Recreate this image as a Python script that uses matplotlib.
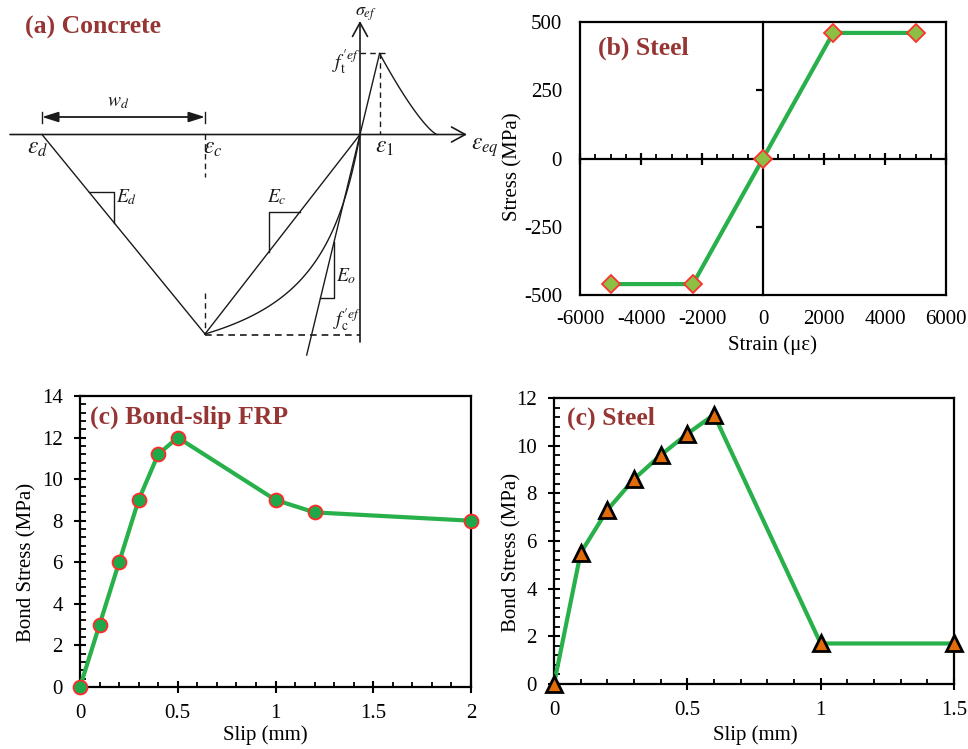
import numpy as np
import matplotlib
matplotlib.use('Agg')
import matplotlib.pyplot as plt
from matplotlib.ticker import MultipleLocator

# ---------------- data ----------------
# (b) steel stress-strain
steel_strain = [-5000, -2300, 0, 2300, 5000]
steel_stress = [-460, -460, 0, 460, 460]
# (c) FRP bond-slip
frp_slip = [0, 0.1, 0.2, 0.3, 0.4, 0.5, 1.0, 1.2, 2.0]
frp_bond = [0, 3, 6, 9, 11.2, 12, 9, 8.4, 8]
# (c) steel bond-slip
st_slip = [0, 0.1, 0.2, 0.3, 0.4, 0.5, 0.6, 1.0, 1.5]
st_bond = [0, 5.5, 7.3, 8.6, 9.6, 10.5, 11.3, 1.7, 1.7]

# (a) schematic key points (drawing units)
origin = (360, 134.5)
eps_d_x = 42
peak_c = (205, 334)
peak_t_y = 53.5
soft_end_x = 437
eo_bottom = (306.7, 355)

W, H = 968, 749
plt.rcParams['font.family'] = ['Liberation Serif', 'DejaVu Serif']
plt.rcParams['mathtext.fontset'] = 'stix'
plt.rcParams['axes.unicode_minus'] = False

TITLE_C = '#963634'
GREEN = '#28B04A'
FS = 15
TFS = 18.5

fig = plt.figure(figsize=(W / 100, H / 100), dpi=100)


def rect(l, t, r, b):
    return [l / W, 1 - b / H, (r - l) / W, (b - t) / H]


def axc(box, px, py):
    l, t, r, b = box
    return ((px - l) / (r - l), (b - py) / (b - t))


# ---------------- (a) concrete schematic ----------------
aa = fig.add_axes(rect(0, 0, 490, 370))
aa.set_xlim(0, 490)
aa.set_ylim(370, 0)
aa.axis('off')
K = '#1a1a1a'
LW = 1.0
ox, oy = origin
# axes with arrows
aa.annotate('', xy=(467, oy), xytext=(10, oy),
            arrowprops=dict(arrowstyle='->,head_length=0.55,head_width=0.3', lw=1.2, color=K,
                            shrinkA=0, shrinkB=0, mutation_scale=18))
aa.annotate('', xy=(ox, 21), xytext=(ox, 342),
            arrowprops=dict(arrowstyle='->,head_length=0.55,head_width=0.3', lw=1.2, color=K,
                            shrinkA=0, shrinkB=0, mutation_scale=18))
# descending branch eps_d -> peak
aa.plot([eps_d_x, peak_c[0]], [oy, peak_c[1]], color=K, lw=LW)
# secant line
aa.plot([peak_c[0], ox], [peak_c[1], oy], color=K, lw=LW)
# compression curve
t = np.linspace(0, 1, 100)
s = 1.3 * t / (0.3 + t)
aa.plot(ox - t * (ox - peak_c[0]), oy + s * (peak_c[1] - oy), color=K, lw=LW)
# initial tangent line (through origin to tension peak)
slope_o = (eo_bottom[1] - oy) / (ox - eo_bottom[0])
peak_t_x = ox + (oy - peak_t_y) / slope_o
aa.plot([eo_bottom[0], peak_t_x], [eo_bottom[1], peak_t_y], color=K, lw=LW)
# tension softening
u = np.linspace(0, 1, 100)
aa.plot(peak_t_x + u * (soft_end_x - peak_t_x), oy - (oy - peak_t_y) * (1 - u) ** 1.3, color=K, lw=LW)
# dashed guides
ds = (0, (4, 3))
aa.plot([ox, 388], [peak_t_y, peak_t_y], color=K, lw=LW, ls=ds)
aa.plot([peak_t_x, peak_t_x], [peak_t_y, oy], color=K, lw=LW, ls=ds)
aa.plot([peak_c[0], ox], [peak_c[1] + 1, peak_c[1] + 1], color=K, lw=1.2, ls=ds)
aa.plot([peak_c[0], peak_c[0]], [oy, 177], color=K, lw=LW, ls=ds)
aa.plot([peak_c[0], peak_c[0]], [293, peak_c[1]], color=K, lw=LW, ls=ds)
# slope triangles
sd = (peak_c[1] - oy) / (peak_c[0] - eps_d_x)
aa.plot([89, 114, 114], [oy + (89 - eps_d_x) * sd, oy + (89 - eps_d_x) * sd, oy + (114 - eps_d_x) * sd],
        color=K, lw=LW)
sc = (peak_c[1] - oy) / (ox - peak_c[0])
aa.plot([ox - (212 - oy) / sc, 269, 269], [212, 212, oy + (ox - 269) * sc], color=K, lw=LW)
aa.plot([334, 334, ox - (298 - oy) / slope_o], [oy + (ox - 334) * slope_o, 298, 298], color=K, lw=LW)
# w_d dimension
aa.annotate('', xy=(peak_c[0], 117), xytext=(eps_d_x, 117),
            arrowprops=dict(arrowstyle='<|-|>,head_length=0.7,head_width=0.22', lw=1.3, color=K,
                            shrinkA=0, shrinkB=0, mutation_scale=14))
aa.plot([eps_d_x, eps_d_x], [112, 123], color=K, lw=LW)
aa.plot([peak_c[0], peak_c[0]], [112, 123], color=K, lw=LW)
# labels
lab = dict(color=K, ha='center', va='center')
aa.text(118, 103, r'$w_d$', fontsize=14, **lab)
aa.text(38, 148, r'$\varepsilon_d$', fontsize=17, **lab)
aa.text(213, 148, r'$\varepsilon_c$', fontsize=17, **lab)
aa.text(385, 147, r'$\varepsilon_1$', fontsize=17, **lab)
aa.text(485, 148, r'$\varepsilon_{eq}$', fontsize=17, **lab)
aa.text(366, 14, r'$\sigma_{ef}$', fontsize=13, **lab)
aa.text(346, 62, r'$f_{\mathrm{t}}^{\prime ef}$', fontsize=14, **lab)
aa.text(347, 320, r'$f_{\mathrm{c}}^{\prime ef}$', fontsize=14, **lab)
aa.text(127, 197, r'$E_d$', fontsize=14, **lab)
aa.text(277, 197, r'$E_c$', fontsize=14, **lab)
aa.text(346, 276, r'$E_o$', fontsize=14, **lab)
aa.text(25, 27, '(a) Concrete', fontsize=TFS, fontweight='bold', color=TITLE_C, ha='left', va='center')

# ---------------- (b) steel stress-strain ----------------
bb = (580, 22, 946, 295)
ab = fig.add_axes(rect(*bb))
ab.set_xlim(-6000, 6000)
ab.set_ylim(-500, 500)
ab.set_xticks(np.arange(-6000, 6001, 2000))
ab.set_yticks([-500, -250, 0, 250, 500])
ab.tick_params(length=0, labelsize=FS)
ab.tick_params(axis='y', pad=13)
ab.tick_params(axis='x', pad=11)
for sp in ab.spines.values():
    sp.set_linewidth(1.6)
ab.set_xlabel('Strain (με)', fontsize=FS, va='center')
ab.xaxis.set_label_coords(*axc(bb, 772, 345))
ab.set_ylabel('Stress (MPa)', fontsize=FS, va='center')
ab.yaxis.set_label_coords(*axc(bb, 513, 167))
ab.text(*axc(bb, 598, 48), '(b) Steel', transform=ab.transAxes, fontsize=TFS, fontweight='bold',
        color=TITLE_C, ha='left', va='center')

ab2 = fig.add_axes(rect(*bb), label='zero-axes')
ab2.patch.set_visible(False)
ab2.set_xlim(-6000, 6000)
ab2.set_ylim(-500, 500)
ab2.spines['left'].set_position(('data', 0))
ab2.spines['bottom'].set_position(('data', 0))
ab2.spines['top'].set_visible(False)
ab2.spines['right'].set_visible(False)
ab2.spines['left'].set_linewidth(1.6)
ab2.spines['bottom'].set_linewidth(1.6)
ab2.set_xticks(np.arange(-6000, 6001, 2000))
ab2.xaxis.set_minor_locator(MultipleLocator(500))
ab2.set_yticks([-250, 250])
ab2.tick_params(axis='x', which='major', direction='inout', length=8, width=1.6, labelbottom=False)
ab2.tick_params(axis='x', which='minor', direction='in', length=3.5, width=1.3)
ab2.tick_params(axis='y', which='major', direction='out', length=5, width=1.6, labelleft=False)
ab2.plot(steel_strain, steel_stress, color=GREEN, lw=3, marker='D', ms=9, mfc='#8CBF44',
         mec='#FF3030', mew=1.3, zorder=3, clip_on=False)

# ---------------- (c) FRP bond-slip ----------------
cb = (80, 396, 471, 687)
ac = fig.add_axes(rect(*cb))
ac.set_xlim(0, 2)
ac.set_ylim(0, 14)
ac.set_xticks([0, 0.5, 1, 1.5, 2])
ac.set_xticklabels(['0', '0.5', '1', '1.5', '2'])
ac.set_yticks(np.arange(0, 15, 2))
ac.xaxis.set_minor_locator(MultipleLocator(0.1))
ac.yaxis.set_minor_locator(MultipleLocator(0.4))
ac.tick_params(which='major', direction='inout', width=1.5, labelsize=FS)
ac.tick_params(axis='y', which='major', length=9, pad=8)
ac.tick_params(axis='x', which='major', length=8, pad=8)
ac.tick_params(axis='y', which='minor', direction='in', length=4.5, width=1.3)
ac.tick_params(axis='x', which='minor', direction='in', length=3.5, width=1.3)
for sp in ac.spines.values():
    sp.set_linewidth(1.6)
ac.set_xlabel('Slip (mm)', fontsize=FS, va='center')
ac.xaxis.set_label_coords(*axc(cb, 265, 735))
ac.set_ylabel('Bond Stress (MPa)', fontsize=FS, va='center')
ac.yaxis.set_label_coords(*axc(cb, 27, 562))
ac.text(*axc(cb, 90, 417), '(c) Bond-slip FRP', transform=ac.transAxes, fontsize=TFS,
        fontweight='bold', color=TITLE_C, ha='left', va='center')
ac.plot(frp_slip, frp_bond, color=GREEN, lw=3, marker='o', ms=10, mfc='#1FA84A',
        mec='#FF2A2A', mew=1.3, zorder=3, clip_on=False)

# ---------------- (c) steel bond-slip ----------------
db = (554, 398, 954, 684)
ad = fig.add_axes(rect(*db))
ad.set_xlim(0, 1.5)
ad.set_ylim(0, 12)
ad.set_xticks([0, 0.5, 1, 1.5])
ad.set_xticklabels(['0', '0.5', '1', '1.5'])
ad.set_yticks(np.arange(0, 13, 2))
ad.xaxis.set_minor_locator(MultipleLocator(0.1))
ad.yaxis.set_minor_locator(MultipleLocator(0.4))
ad.tick_params(which='major', direction='inout', width=1.5, labelsize=FS)
ad.tick_params(axis='y', which='major', length=9, pad=8)
ad.tick_params(axis='x', which='major', length=8, pad=8)
ad.tick_params(axis='y', which='minor', direction='in', length=4.5, width=1.3)
ad.tick_params(axis='x', which='minor', direction='in', length=3.5, width=1.3)
for sp in ad.spines.values():
    sp.set_linewidth(1.6)
ad.set_xlabel('Slip (mm)', fontsize=FS, va='center')
ad.xaxis.set_label_coords(*axc(db, 755, 735))
ad.set_ylabel('Bond Stress (MPa)', fontsize=FS, va='center')
ad.yaxis.set_label_coords(*axc(db, 512, 552))
ad.text(*axc(db, 567, 418), '(c) Steel', transform=ad.transAxes, fontsize=TFS,
        fontweight='bold', color=TITLE_C, ha='left', va='center')
ad.plot(st_slip, st_bond, color=GREEN, lw=3, marker='^', ms=11.5, mfc='#E36C0A',
        mec='black', mew=2, zorder=3, clip_on=False)

fig.savefig('out.png', dpi=100)
